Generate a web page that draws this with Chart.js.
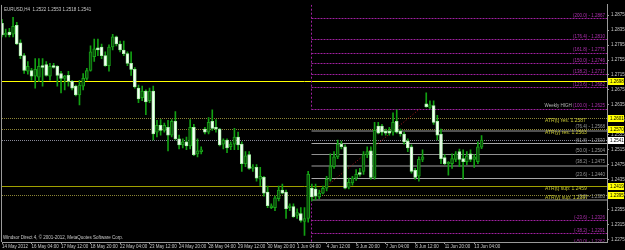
<!DOCTYPE html>
<html>
<head>
<meta charset="utf-8">
<script src="https://cdn.jsdelivr.net/npm/chart.js@4.4.0/dist/chart.umd.min.js"></script>
<style>
  html, body { margin: 0; padding: 0; background: #000; }
  #wrap { width: 625px; height: 250px; position: relative; }
</style>
</head>
<body>
<div id="wrap"><canvas id="chart"></canvas></div>
<script>
// EURUSD H4 candles (oldest first)
const opens = [
  1.2853, 1.2822, 1.2830, 1.2824, 1.2848, 1.2801, 1.2767, 1.2725, 1.2727, 1.2712,
  1.2709, 1.2740, 1.2743, 1.2712, 1.2740, 1.2738, 1.2719, 1.2706, 1.2714, 1.2698,
  1.2685, 1.2662, 1.2685, 1.2706, 1.2727, 1.2764, 1.2788, 1.2790, 1.2767, 1.2740,
  1.2790, 1.2817, 1.2798, 1.2782, 1.2772, 1.2746, 1.2730, 1.2680, 1.2654, 1.2672,
  1.2646, 1.2672, 1.2562, 1.2580, 1.2567, 1.2575, 1.2554, 1.2591, 1.2544, 1.2528,
  1.2536, 1.2525, 1.2575, 1.2504, 1.2510, 1.2570, 1.2562, 1.2591, 1.2575, 1.2570,
  1.2530, 1.2541, 1.2523, 1.2530, 1.2549, 1.2530, 1.2478, 1.2502, 1.2465, 1.2468,
  1.2436, 1.2441, 1.2402, 1.2360, 1.2360, 1.2384, 1.2407, 1.2402, 1.2360, 1.2363,
  1.2339, 1.2344, 1.2323, 1.2331, 1.2412, 1.2410, 1.2389, 1.2399, 1.2412, 1.2436,
  1.2470, 1.2496, 1.2530, 1.2523, 1.2415, 1.2426, 1.2439, 1.2454, 1.2457, 1.2502,
  1.2512, 1.2441, 1.2578, 1.2578, 1.2565, 1.2565, 1.2562, 1.2591, 1.2565, 1.2557,
  1.2538, 1.2523, 1.2460, 1.2444, 1.2489, 1.2638, 1.2628, 1.2633, 1.2591, 1.2557,
  1.2494, 1.2478, 1.2478, 1.2489, 1.2510, 1.2491, 1.2483, 1.2504, 1.2489, 1.2483,
  1.2522
];
const highs = [
  1.2864, 1.2838, 1.2840, 1.2869, 1.2856, 1.2809, 1.2772, 1.2751, 1.2733, 1.2759,
  1.2759, 1.2759, 1.2751, 1.2746, 1.2746, 1.2740, 1.2725, 1.2714, 1.2725, 1.2701,
  1.2688, 1.2701, 1.2719, 1.2733, 1.2793, 1.2811, 1.2811, 1.2798, 1.2777, 1.2796,
  1.2824, 1.2819, 1.2806, 1.2806, 1.2777, 1.2777, 1.2735, 1.2688, 1.2685, 1.2675,
  1.2680, 1.2685, 1.2594, 1.2596, 1.2586, 1.2594, 1.2596, 1.2617, 1.2554, 1.2544,
  1.2549, 1.2596, 1.2583, 1.2544, 1.2523, 1.2575, 1.2601, 1.2622, 1.2596, 1.2572,
  1.2544, 1.2544, 1.2536, 1.2572, 1.2562, 1.2536, 1.2510, 1.2510, 1.2475, 1.2475,
  1.2468, 1.2444, 1.2418, 1.2370, 1.2391, 1.2418, 1.2423, 1.2407, 1.2370, 1.2370,
  1.2357, 1.2360, 1.2360, 1.2457, 1.2423, 1.2423, 1.2407, 1.2418, 1.2444, 1.2504,
  1.2510, 1.2541, 1.2538, 1.2528, 1.2439, 1.2444, 1.2462, 1.2465, 1.2510, 1.2523,
  1.2523, 1.2588, 1.2588, 1.2583, 1.2570, 1.2575, 1.2614, 1.2622, 1.2570, 1.2562,
  1.2544, 1.2528, 1.2465, 1.2496, 1.2515, 1.2667, 1.2646, 1.2646, 1.2607, 1.2570,
  1.2502, 1.2483, 1.2504, 1.2510, 1.2517, 1.2515, 1.2510, 1.2515, 1.2502, 1.2536,
  1.2553
];
const lows = [
  1.2817, 1.2817, 1.2817, 1.2817, 1.2796, 1.2759, 1.2719, 1.2717, 1.2701, 1.2680,
  1.2698, 1.2685, 1.2712, 1.2701, 1.2733, 1.2685, 1.2667, 1.2675, 1.2685, 1.2675,
  1.2659, 1.2635, 1.2675, 1.2701, 1.2725, 1.2751, 1.2767, 1.2759, 1.2738, 1.2725,
  1.2782, 1.2793, 1.2777, 1.2767, 1.2740, 1.2714, 1.2680, 1.2641, 1.2646, 1.2609,
  1.2641, 1.2541, 1.2549, 1.2554, 1.2562, 1.2512, 1.2549, 1.2541, 1.2517, 1.2520,
  1.2515, 1.2517, 1.2499, 1.2496, 1.2504, 1.2557, 1.2557, 1.2567, 1.2562, 1.2525,
  1.2517, 1.2507, 1.2515, 1.2515, 1.2515, 1.2457, 1.2470, 1.2462, 1.2457, 1.2431,
  1.2418, 1.2391, 1.2360, 1.2357, 1.2352, 1.2378, 1.2397, 1.2331, 1.2352, 1.2334,
  1.2331, 1.2321, 1.2286, 1.2321, 1.2378, 1.2381, 1.2384, 1.2397, 1.2405, 1.2431,
  1.2465, 1.2491, 1.2517, 1.2410, 1.2410, 1.2420, 1.2433, 1.2444, 1.2449, 1.2494,
  1.2436, 1.2436, 1.2557, 1.2554, 1.2554, 1.2554, 1.2554, 1.2559, 1.2551, 1.2530,
  1.2510, 1.2452, 1.2436, 1.2431, 1.2483, 1.2628, 1.2625, 1.2583, 1.2541, 1.2478,
  1.2475, 1.2447, 1.2465, 1.2483, 1.2470, 1.2436, 1.2475, 1.2483, 1.2468, 1.2478,
  1.2518
];
const closes = [
  1.2822, 1.2827, 1.2822, 1.2845, 1.2798, 1.2767, 1.2727, 1.2738, 1.2712, 1.2730,
  1.2738, 1.2735, 1.2714, 1.2738, 1.2735, 1.2714, 1.2706, 1.2712, 1.2698, 1.2680,
  1.2662, 1.2688, 1.2706, 1.2727, 1.2777, 1.2785, 1.2782, 1.2767, 1.2740, 1.2790,
  1.2817, 1.2798, 1.2782, 1.2772, 1.2746, 1.2730, 1.2683, 1.2651, 1.2672, 1.2643,
  1.2672, 1.2557, 1.2580, 1.2567, 1.2580, 1.2554, 1.2591, 1.2544, 1.2528, 1.2536,
  1.2525, 1.2575, 1.2502, 1.2512, 1.2515, 1.2562, 1.2588, 1.2572, 1.2570, 1.2528,
  1.2541, 1.2520, 1.2530, 1.2549, 1.2528, 1.2478, 1.2499, 1.2465, 1.2469, 1.2439,
  1.2444, 1.2399, 1.2365, 1.2365, 1.2386, 1.2407, 1.2399, 1.2357, 1.2365, 1.2336,
  1.2347, 1.2326, 1.2331, 1.2449, 1.2389, 1.2391, 1.2399, 1.2412, 1.2436, 1.2470,
  1.2496, 1.2530, 1.2523, 1.2412, 1.2428, 1.2439, 1.2449, 1.2449, 1.2502, 1.2510,
  1.2441, 1.2567, 1.2559, 1.2562, 1.2559, 1.2559, 1.2588, 1.2562, 1.2557, 1.2536,
  1.2520, 1.2457, 1.2441, 1.2489, 1.2496, 1.2630, 1.2635, 1.2588, 1.2554, 1.2491,
  1.2478, 1.2481, 1.2491, 1.2504, 1.2489, 1.2483, 1.2499, 1.2489, 1.2496, 1.2523,
  1.2541
];

// time axis: one label every 8 bars
const timeTickIdx = [0, 8, 16, 24, 32, 40, 48, 56, 64, 72, 80, 88, 96, 104, 112, 120, 128];
const timeTickText = ['14 May 2012', '16 May 04:00', '17 May 12:00', '18 May 20:00', '22 May 04:00',
  '23 May 12:00', '24 May 20:00', '28 May 04:00', '29 May 12:00', '30 May 20:00', '1 Jun 04:00',
  '4 Jun 12:00', '5 Jun 20:00', '7 Jun 04:00', '8 Jun 12:00', '11 Jun 20:00', '13 Jun 04:00'];
const slotCount = 165; // bars + empty space on the right

// price axis
const priceTicks = [1.2275, 1.2315, 1.2355, 1.2395, 1.2435, 1.2475, 1.2515, 1.2555,
  1.2595, 1.2635, 1.2675, 1.2715, 1.2755, 1.2795, 1.2835, 1.2875];
const priceMin = 1.22681;
const priceMax = 1.29031;

// horizontal lines across the whole chart
const hLinePrices = [1.2698, 1.2601, 1.2570, 1.2541, 1.2419, 1.2395];
const hLineColors = ['#ffff00', '#8c8536', '#8c8536', '#8a8a9a', '#a0a000', '#8c8536'];
const hLineDotted = [false, true, true, true, false, true];
const hLineBoxFill = ['#ffff00', '#ffff00', '#ffff00', '#ffffff', '#ffff00', '#ffff00'];

// ATR texts, attached to lines 1, 2, 4, 5
const atrLineIdx = [1, 2, 4, 5];
const atrText = ['ATR(t) res: 1.2587', 'ATR(y) res: 1.2563', 'ATR(t) sup: 1.2459', 'ATR(y) sup: 1.2397'];

// fibonacci levels drawn from the anchor bar to the right edge
const fibLevels = ['200.0', '176.4', '161.8', '150.0', '138.2', '123.6', '100.0', '76.4',
  '61.8', '50.0', '38.2', '23.6', '0.0', '-23.6', '-38.2', '-50.0'];
const fibPrices = [1.2867, 1.2810, 1.2775, 1.2746, 1.2717, 1.2682, 1.2625, 1.2568,
  1.2533, 1.2504, 1.2475, 1.2440, 1.2383, 1.2326, 1.2291, 1.2262];
const fibColors = ['#a020a0', '#a020a0', '#a020a0', '#a020a0', '#a020a0', '#a020a0', '#a020a0', '#505050',
  '#a8a8a8', '#909090', '#505050', '#a8a8a8', '#505050', '#a020a0', '#a020a0', '#a020a0'];
const fibStartIdx = 83.8;
const fibEndIdx = 113.3;

const slotLabels = Array.from({ length: slotCount }, () => '');
timeTickIdx.forEach((k, j) => { slotLabels[k] = timeTickText[j]; });

const FONT = 'Liberation Sans, Arial, sans-serif';
const last = closes.length - 1;

function hline(ctx, x1, x2, yy, color, dash, width) {
  ctx.strokeStyle = color;
  ctx.lineWidth = width || 1;
  ctx.setLineDash(dash || []);
  ctx.beginPath();
  ctx.moveTo(x1, yy);
  ctx.lineTo(x2, yy);
  ctx.stroke();
}

const overlay = {
  id: 'overlay',
  beforeDatasetsDraw(chart) {
    const { ctx, chartArea: a, scales: { x, y } } = chart;
    const py = p => Math.round(y.getPixelForValue(p)) + 0.5;
    ctx.save();
    ctx.beginPath();
    ctx.rect(a.left - 2, a.top, a.right - a.left + 2, a.bottom - a.top);
    ctx.clip();

    // left frame
    ctx.strokeStyle = '#9a9a9a';
    ctx.lineWidth = 1;
    ctx.beginPath();
    ctx.moveTo(1.5, a.top);
    ctx.lineTo(1.5, a.bottom);
    ctx.stroke();

    hLinePrices.forEach((p, i) => {
      hline(ctx, a.left, a.right, py(p), hLineColors[i], hLineDotted[i] ? [1, 1] : []);
    });

    const fx = Math.round(x.getPixelForValue(fibStartIdx)) + 0.5;
    fibPrices.forEach((p, i) => {
      const dark = fibColors[i] === '#505050';
      hline(ctx, fx, a.right, py(p) + (dark ? 0.5 : 0), fibColors[i], fibColors[i] === '#a020a0' ? [2, 1] : [], dark ? 2 : 1);
    });

    // vertical anchor line
    ctx.strokeStyle = '#a020a0';
    ctx.lineWidth = 1;
    ctx.setLineDash([2, 2]);
    ctx.beginPath();
    ctx.moveTo(fx, a.top);
    ctx.lineTo(fx, py(fibPrices[6]));
    ctx.moveTo(fx, py(fibPrices[12]));
    ctx.lineTo(fx, a.bottom);
    ctx.stroke();

    // fib trend line (0 -> 100)
    ctx.strokeStyle = '#b01c1c';
    ctx.setLineDash([1, 2]);
    ctx.beginPath();
    ctx.moveTo(x.getPixelForValue(fibStartIdx), y.getPixelForValue(fibPrices[12]));
    ctx.lineTo(x.getPixelForValue(fibEndIdx), y.getPixelForValue(fibPrices[6]));
    ctx.stroke();
    ctx.restore();
  },
  afterDatasetsDraw(chart) {
    const { ctx, chartArea: a, scales: { y } } = chart;
    ctx.save();
    ctx.beginPath();
    ctx.rect(a.left, a.top, a.right - a.left, a.bottom - a.top);
    ctx.clip();
    ctx.setLineDash([]);

    // fib labels, right aligned above each level
    ctx.font = '4.5px ' + FONT;
    ctx.textAlign = 'right';
    ctx.textBaseline = 'alphabetic';
    fibPrices.forEach((p, i) => {
      const t = '(' + fibLevels[i] + ') - ' + p.toFixed(4);
      const yy = y.getPixelForValue(p) - 1.5;
      ctx.fillStyle = fibColors[i] === '#a020a0' ? '#b030b0' : '#9a9a9a';
      ctx.fillText(t, a.right - 2, yy);
      if (fibLevels[i] === '100.0') {
        const w = ctx.measureText(t + ' ').width;
        ctx.fillStyle = '#b8b8b8';
        ctx.fillText('Weekly HIGH', a.right - 2 - w, yy);
      }
    });

    // ATR labels under their lines
    ctx.font = '5px ' + FONT;
    ctx.textAlign = 'left';
    ctx.textBaseline = 'top';
    ctx.fillStyle = '#c8c832';
    atrLineIdx.forEach((k, j) => {
      ctx.fillText(atrText[j], a.right - 62, y.getPixelForValue(hLinePrices[k]) + 1);
    });

    // header and footer
    ctx.font = '4.5px ' + FONT;
    ctx.fillStyle = '#c8c8c8';
    ctx.textBaseline = 'middle';
    const ohlc = [opens[last], highs[last], lows[last], closes[last]].map(v => v.toFixed(4)).join(' ');
    ctx.fillText('EURUSD,H4  ' + ohlc, a.left + 2, a.top + 5);
    ctx.fillText('Windsor Direct 4, \u00a9 2001-2012, MetaQuotes Software Corp.', a.left + 1, a.bottom - 4);
    ctx.restore();
  },
  afterDraw(chart) {
    const { ctx, chartArea: a, scales: { y } } = chart;
    ctx.save();
    ctx.font = '4.5px ' + FONT;
    ctx.textAlign = 'left';
    ctx.textBaseline = 'middle';
    hLinePrices.forEach((p, i) => {
      const yy = Math.round(y.getPixelForValue(p));
      ctx.fillStyle = hLineBoxFill[i];
      ctx.fillRect(a.right + 1, yy - 3, 16, 7);
      ctx.fillStyle = '#000';
      ctx.fillText(p.toFixed(4), a.right + 3, yy + 0.5);
    });
    ctx.restore();
  }
};

const bullFill = '#0a4a0a', bullEdge = '#18a018';
const bearFill = '#f6fff6', bearEdge = '#a8f0a8';

new Chart(document.getElementById('chart'), {
  type: 'bar',
  data: {
    labels: slotLabels,
    datasets: [
      {
        label: 'wick',
        data: lows.map((l, i) => [l, highs[i]]),
        backgroundColor: '#12a012',
        barThickness: 1,
        grouped: false,
        order: 2
      },
      {
        label: 'body',
        data: opens.map((o, i) => [o, closes[i]]),
        backgroundColor: c => closes[c.dataIndex] >= opens[c.dataIndex] ? bullFill : bearFill,
        borderColor: c => closes[c.dataIndex] >= opens[c.dataIndex] ? bullEdge : bearEdge,
        borderWidth: 1,
        borderSkipped: false,
        barThickness: 3,
        minBarLength: 1,
        grouped: false,
        order: 1
      }
    ]
  },
  options: {
    responsive: true,
    maintainAspectRatio: false,
    animation: false,
    layout: { padding: { left: 2, top: 0, right: 0, bottom: 0 } },
    plugins: { legend: { display: false }, tooltip: { enabled: false } },
    scales: {
      x: {
        type: 'category',
        offset: false,
        grid: { display: true, drawOnChartArea: false, drawTicks: true, tickLength: 2, color: '#9a9a9a', offset: false },
        border: { display: true, color: '#9a9a9a' },
        ticks: {
          autoSkip: false, maxRotation: 0, minRotation: 0, align: 'start', padding: 0,
          color: '#c8c8c8', font: { family: FONT, size: 4.5 }
        },
        afterBuildTicks: s => { s.ticks = timeTickIdx.map(v => ({ value: v })); },
        afterFit: s => { s.height = 8; }
      },
      y: {
        position: 'right',
        min: priceMin,
        max: priceMax,
        grid: { drawOnChartArea: false, drawTicks: true, tickLength: 2, color: '#9a9a9a' },
        border: { display: true, color: '#9a9a9a' },
        ticks: {
          padding: 2, color: '#c8c8c8', font: { family: FONT, size: 4.5 },
          callback: v => v.toFixed(4)
        },
        afterBuildTicks: s => { s.ticks = priceTicks.map(v => ({ value: v })); },
        afterFit: s => { s.width = 18; }
      }
    }
  },
  plugins: [overlay]
});
</script>
</body>
</html>
